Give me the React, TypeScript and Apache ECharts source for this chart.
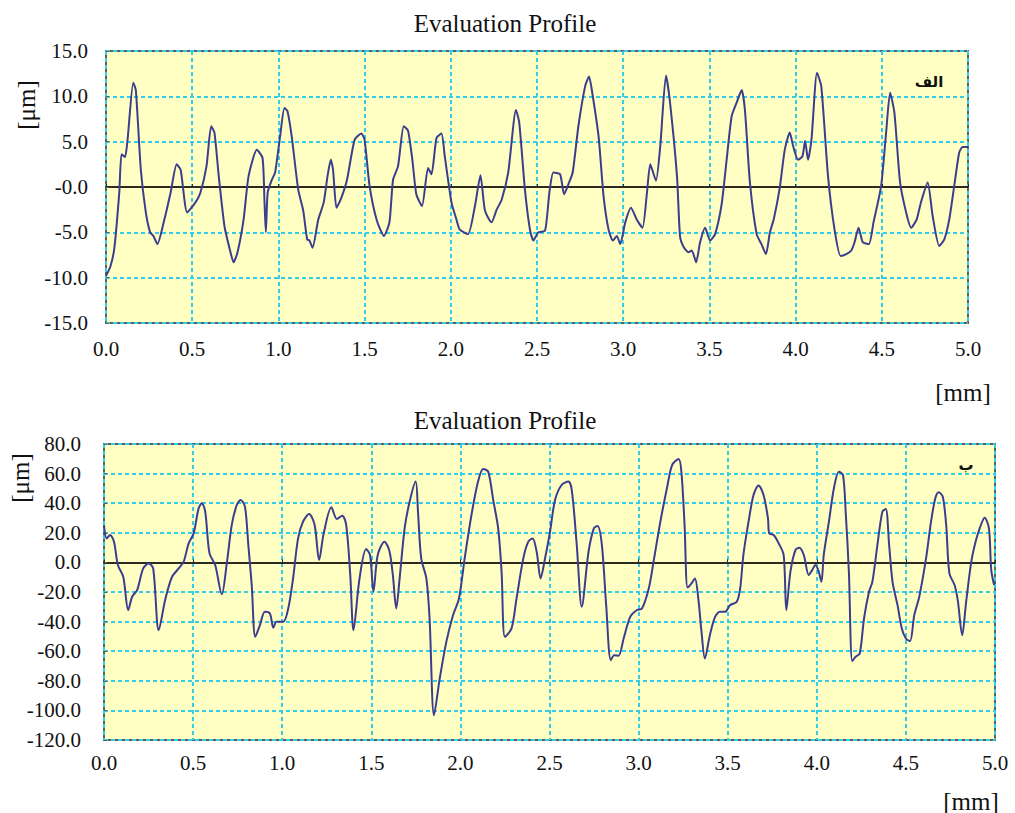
import React, { useEffect, useRef } from "react";
import * as echarts from "echarts";

// ---- Data ----
const chartTitle = "Evaluation Profile";
const xUnit = "[mm]";
const yUnit = "[μm]";
const topTag = "الف";
const bottomTag = "ب";

const topX = [
  0.0, 0.025, 0.048, 0.077, 0.09, 0.11, 0.125, 0.158, 0.173, 0.202, 0.231, 0.256, 0.275, 0.298, 0.337, 0.375,
  0.41, 0.433, 0.471, 0.519, 0.548, 0.583, 0.61, 0.629, 0.654, 0.687, 0.717, 0.74, 0.763, 0.798, 0.827, 0.875,
  0.908, 0.919, 0.927, 0.938, 0.962, 0.981, 1.01, 1.035, 1.052, 1.077, 1.115, 1.144, 1.167, 1.18, 1.198, 1.231,
  1.263, 1.285, 1.304, 1.317, 1.337, 1.365, 1.398, 1.442, 1.481, 1.5, 1.529, 1.571, 1.612, 1.644, 1.665, 1.694,
  1.727, 1.752, 1.777, 1.8, 1.833, 1.868, 1.888, 1.917, 1.946, 1.965, 2.004, 2.033, 2.052, 2.1, 2.14, 2.172,
  2.198, 2.236, 2.266, 2.295, 2.333, 2.378, 2.397, 2.43, 2.459, 2.479, 2.508, 2.547, 2.572, 2.595, 2.634, 2.657,
  2.682, 2.707, 2.74, 2.779, 2.802, 2.818, 2.857, 2.886, 2.915, 2.94, 2.963, 2.983, 3.012, 3.045, 3.079, 3.112,
  3.138, 3.157, 3.19, 3.215, 3.248, 3.27, 3.312, 3.33, 3.353, 3.379, 3.398, 3.423, 3.446, 3.475, 3.504, 3.533,
  3.571, 3.6, 3.629, 3.658, 3.687, 3.706, 3.735, 3.774, 3.802, 3.828, 3.851, 3.874, 3.908, 3.937, 3.966, 3.986,
  4.014, 4.04, 4.055, 4.072, 4.092, 4.124, 4.149, 4.188, 4.226, 4.261, 4.294, 4.323, 4.342, 4.365, 4.39, 4.425,
  4.452, 4.496, 4.525, 4.548, 4.573, 4.606, 4.641, 4.67, 4.702, 4.727, 4.766, 4.795, 4.833, 4.862, 4.891, 4.92,
  4.949, 4.968, 5.0,
];
const topY = [
  -9.8, -8.8, -6.8, -0.6, 3.6, 3.3, 5.2, 11.5, 10.7, 1.9, -2.8, -5.0, -5.4, -6.3, -3.7, -0.6,
  2.5, 1.9, -2.8, -1.7, -0.6, 2.3, 6.7, 6.0, 1.2, -4.3, -6.8, -8.3, -7.2, -3.6, 1.2, 4.1,
  3.2, -1.4, -5.0, -0.6, 0.8, 1.6, 5.6, 8.7, 8.4, 5.6, -0.3, -2.6, -5.8, -5.9, -6.7, -3.6,
  -1.7, 1.2, 3.0, 1.9, -2.3, -1.2, 0.8, 5.2, 5.9, 5.2, 0.1, -3.7, -5.4, -3.9, 0.8, 2.3,
  6.7, 6.2, 3.0, -0.8, -2.1, 2.1, 1.4, 5.4, 5.9, 3.4, -1.7, -3.6, -4.7, -5.2, -2.1, 1.3,
  -2.6, -3.9, -2.5, -1.4, 1.6, 8.5, 7.1, -0.3, -4.7, -5.9, -5.0, -4.8, -0.6, 1.6, 1.4, -0.8,
  0.3, 1.6, 6.7, 11.1, 12.2, 10.7, 5.6, -1.0, -4.7, -5.9, -5.4, -6.3, -3.9, -2.3, -3.6, -4.5,
  -0.6, 2.5, 0.7, 4.5, 12.3, 9.6, 1.2, -5.5, -6.7, -7.2, -7.0, -8.3, -6.1, -4.5, -5.9, -5.2,
  -1.9, 3.0, 7.8, 9.3, 10.7, 8.5, 0.5, -5.2, -6.3, -7.4, -5.0, -3.5, -0.1, 4.1, 6.0, 4.5,
  3.0, 3.4, 5.1, 3.0, 5.2, 12.6, 11.1, 1.2, -4.7, -7.6, -7.4, -7.0, -6.1, -4.5, -6.1, -6.3,
  -3.9, 0.1, 6.0, 10.4, 8.2, 0.5, -2.8, -4.5, -3.6, -1.7, 0.5, -3.2, -6.5, -5.8, -3.6, 0.1,
  3.8, 4.4, 4.4,
];

const bottomX = [
  0.0, 0.015, 0.034, 0.056, 0.078, 0.108, 0.136, 0.158, 0.186, 0.22, 0.251, 0.276, 0.307, 0.345, 0.382, 0.419,
  0.447, 0.475, 0.503, 0.531, 0.549, 0.568, 0.592, 0.624, 0.661, 0.689, 0.717, 0.745, 0.767, 0.791, 0.81, 0.829,
  0.849, 0.875, 0.903, 0.931, 0.95, 0.968, 1.006, 1.034, 1.061, 1.089, 1.117, 1.151, 1.182, 1.207, 1.233, 1.276,
  1.307, 1.337, 1.359, 1.382, 1.4, 1.434, 1.471, 1.493, 1.512, 1.536, 1.574, 1.601, 1.621, 1.64, 1.659, 1.687,
  1.715, 1.749, 1.762, 1.78, 1.809, 1.827, 1.852, 1.884, 1.921, 1.959, 1.992, 2.024, 2.062, 2.099, 2.128, 2.156,
  2.184, 2.212, 2.231, 2.25, 2.287, 2.315, 2.353, 2.381, 2.405, 2.428, 2.45, 2.475, 2.503, 2.531, 2.568, 2.606,
  2.625, 2.653, 2.681, 2.719, 2.749, 2.77, 2.794, 2.818, 2.844, 2.863, 2.887, 2.916, 2.953, 2.991, 3.019, 3.057,
  3.084, 3.122, 3.159, 3.188, 3.225, 3.241, 3.258, 3.275, 3.297, 3.316, 3.335, 3.353, 3.372, 3.4, 3.429, 3.457,
  3.485, 3.513, 3.551, 3.57, 3.588, 3.617, 3.645, 3.673, 3.701, 3.726, 3.733, 3.758, 3.786, 3.814, 3.829, 3.852,
  3.88, 3.902, 3.927, 3.955, 3.974, 3.992, 4.011, 4.026, 4.039, 4.068, 4.096, 4.124, 4.147, 4.162, 4.18, 4.199,
  4.218, 4.241, 4.265, 4.293, 4.312, 4.34, 4.368, 4.387, 4.406, 4.425, 4.453, 4.477, 4.5, 4.523, 4.547, 4.575,
  4.613, 4.641, 4.665, 4.684, 4.707, 4.726, 4.744, 4.773, 4.791, 4.816, 4.838, 4.867, 4.891, 4.914, 4.942, 4.966,
  4.979, 4.995,
];
const bottomY = [
  25.0, 16.2, 18.5, 14.0, -1.8, -9.7, -32.2, -23.2, -18.7, -4.1, -0.7, -4.1, -45.8, -24.4, -9.7, -4.1,
  0.5, 12.9, 19.6, 36.5, 39.9, 34.3, 6.1, -1.8, -21.6, -0.7, 25.3, 38.8, 42.2, 37.7, 11.7, -15.3,
  -50.3, -42.4, -33.4, -34.5, -44.2, -40.1, -40.1, -31.1, -10.8, 16.2, 27.5, 32.7, 25.3, 1.6, 19.6, 37.2,
  29.3, 31.6, 25.3, -8.6, -45.8, -10.8, 9.0, 5.0, -19.8, 5.0, 14.0, 8.0, -8.6, -31.1, -10.8, 23.0,
  41.0, 54.6, 34.3, 2.7, -10.8, -37.9, -103.3, -78.5, -53.7, -35.6, -24.4, 2.7, 32.0, 54.6, 63.1, 61.3,
  42.2, 23.0, -6.3, -50.3, -44.6, -24.4, 2.7, 14.0, 16.2, 7.2, -10.8, 2.7, 20.7, 42.2, 52.3, 54.6,
  48.9, 11.7, -30.0, 7.2, 23.0, 24.6, 11.7, -28.9, -66.1, -62.7, -63.1, -51.4, -36.8, -32.2, -31.1, -17.6,
  0.5, 27.5, 50.1, 65.8, 69.9, 60.0, 25.0, -17.0, -14.2, -10.8, -24.4, -46.9, -64.9, -49.2, -36.8, -33.4,
  -33.4, -28.9, -26.6, -17.6, 5.0, 27.5, 45.5, 51.9, 45.5, 29.8, 19.6, 18.5, 12.9, 5.0, -32.2, -6.3,
  8.3, 9.9, 5.0, -8.6, -5.2, -1.8, -6.3, -13.1, 5.0, 27.5, 50.1, 61.3, 59.1, 34.3, -6.3, -66.7,
  -63.8, -61.6, -37.9, -19.8, -13.1, 11.7, 34.3, 36.1, 11.7, -13.1, -28.9, -44.6, -51.4, -53.2, -35.6, -23.2,
  2.7, 27.5, 43.3, 47.4, 44.4, 25.3, -7.4, -15.3, -25.5, -49.2, -26.6, 0.5, 14.0, 23.0, 30.2, 23.0,
  -5.2, -15.3,
];

const topYRange = [-15, 15, 5];
const bottomYRange = [-120, 80, 20];
const xRange = [0, 5, 0.5];

const SERIF = "Liberation Serif";
const BG = "#FFFFC4";
const GRID = "#35CBEA";
const BORDER = "#5f5f52";
const LINE = "#3d3d8e";

function pairs(xs: number[], ys: number[]) {
  return xs.map((x, i) => [x, ys[i]]);
}

function xAxes(gridIndex: number, labelMargin: number) {
  return [
    {
      type: "value",
      gridIndex,
      min: xRange[0],
      max: xRange[1],
      interval: xRange[2],
      axisLine: { show: false, onZero: false },
      axisTick: { show: false },
      axisLabel: {
        color: "#111",
        fontFamily: SERIF,
        fontSize: 21,
        margin: labelMargin,
        formatter: (v: number) => v.toFixed(1),
      },
      splitLine: { show: true, lineStyle: { color: GRID, width: 2, type: [4, 3] } },
    },
    {
      type: "value",
      gridIndex,
      position: "top",
      min: xRange[0],
      max: xRange[1],
      interval: xRange[2],
      axisLine: { show: true, onZero: true, lineStyle: { color: "#2b2b22", width: 2 } },
      axisTick: { show: true, length: 3, lineStyle: { color: "#2b2b22", width: 1 } },
      axisLabel: { show: false },
      splitLine: { show: false },
    },
  ];
}

function yAxis(gridIndex: number, range: number[], labelMargin: number, zeroText: string) {
  return {
    type: "value",
    gridIndex,
    min: range[0],
    max: range[1],
    interval: range[2],
    axisLine: { show: false },
    axisTick: { show: true, inside: true, length: 3, lineStyle: { color: BORDER } },
    axisLabel: {
      color: "#111",
      fontFamily: SERIF,
      fontSize: 21,
      margin: labelMargin,
      formatter: (v: number) => (v === 0 ? zeroText : v.toFixed(1)),
    },
    splitLine: { show: true, lineStyle: { color: GRID, width: 2, type: [4, 3] } },
  };
}

export default function App() {
  const ref = useRef<HTMLDivElement>(null);

  useEffect(() => {
    if (!ref.current) return;
    const chart = echarts.init(ref.current, undefined, { renderer: "svg" });
    const gridCommon = {
      show: true,
      backgroundColor: BG,
      borderColor: BORDER,
      borderWidth: 2,
      containLabel: false,
    };
    const txt = (text: string, x: number, y: number, size: number, extra: any = {}) => ({
      type: "text",
      x,
      y,
      silent: true,
      z: 100,
      ...extra,
      style: {
        text,
        fill: "#111",
        fontFamily: SERIF,
        fontSize: size,
        align: "center",
        verticalAlign: "middle",
        ...(extra.style || {}),
      },
    });
    const xs0 = xAxes(0, 15);
    const xs1 = xAxes(1, 12);
    chart.setOption({
      animation: false,
      backgroundColor: "#ffffff",
      textStyle: { fontFamily: SERIF },
      grid: [
        { ...gridCommon, left: 106, top: 51, width: 862, height: 272 },
        { ...gridCommon, left: 104, top: 444, width: 891, height: 296 },
      ],
      xAxis: [xs0[0], xs0[1], xs1[0], xs1[1]],
      yAxis: [yAxis(0, topYRange, 18, "-0.0"), yAxis(1, bottomYRange, 23, "0.0")],
      series: [
        {
          type: "line",
          xAxisIndex: 0,
          yAxisIndex: 0,
          data: pairs(topX, topY),
          showSymbol: false,
          smooth: 0.2,
          lineStyle: { color: LINE, width: 2 },
          z: 10,
        },
        {
          type: "line",
          xAxisIndex: 2,
          yAxisIndex: 1,
          data: pairs(bottomX, bottomY),
          showSymbol: false,
          smooth: 0.3,
          lineStyle: { color: LINE, width: 2 },
          z: 10,
        },
      ],
      graphic: [
        txt(chartTitle, 505, 23, 25),
        txt(chartTitle, 505, 420, 25),
        txt(xUnit, 963, 392, 25),
        txt(xUnit, 971, 801, 25),
        txt(yUnit, 26, 105, 25, { rotation: Math.PI / 2 }),
        txt(yUnit, 20, 478, 25, { rotation: Math.PI / 2 }),
        txt(topTag, 929, 82, 15, { style: { fontFamily: "DejaVu Sans", fontWeight: "bold" } }),
        txt(bottomTag, 966, 465, 15, { style: { fontFamily: "DejaVu Sans", fontWeight: "bold" } }),
      ],
    });
    return () => chart.dispose();
  }, []);

  return (
    <div
      ref={ref}
      style={{ position: "fixed", left: 0, top: 0, width: 1015, height: 813, background: "#fff" }}
    />
  );
}
